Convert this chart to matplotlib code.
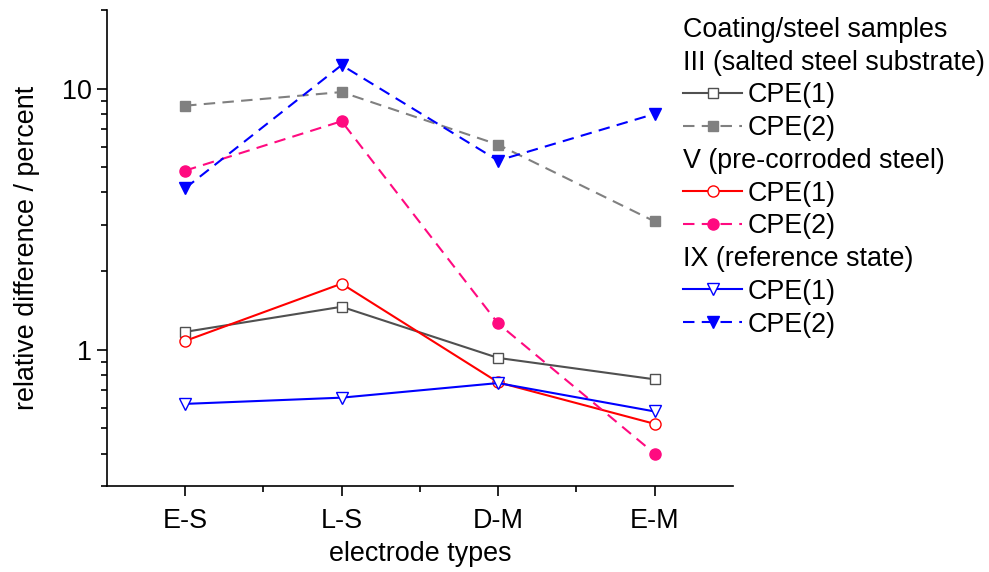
import matplotlib
matplotlib.use("Agg")
import matplotlib.pyplot as plt
from matplotlib.lines import Line2D
from matplotlib.ticker import FixedLocator, NullFormatter
import numpy as np

plt.rcParams['font.family'] = ['Liberation Sans', 'DejaVu Sans']

electrodes = ['E-S', 'L-S', 'D-M', 'E-M']

# III (salted steel substrate)
iii_cpe1 = [1.17, 1.46, 0.93, 0.77]
iii_cpe2 = [8.6, 9.7, 6.1, 3.1]
# V (pre-corroded steel)
v_cpe1 = [1.08, 1.79, 0.75, 0.52]
v_cpe2 = [4.85, 7.5, 1.26, 0.40]
# IX (reference state)
ix_cpe1 = [0.62, 0.655, 0.745, 0.58]
ix_cpe2 = [4.15, 12.3, 5.3, 8.0]

fs = 19.4
dash = (0, (5.5, 3.5))
lw = 1.5

fig = plt.figure(figsize=(9.89, 5.72), dpi=100)
ax = fig.add_axes([0.108, 0.150, 0.633, 0.8325])
x = np.arange(len(electrodes))

h1, = ax.plot(x, iii_cpe1, color='#505050', lw=lw, marker='s', ms=6.5, mfc='white', mec='#505050', mew=1.0)
h2, = ax.plot(x, iii_cpe2, color='#808080', lw=lw, ls=dash, marker='s', ms=7, mfc='#808080', mec='#808080')
h3, = ax.plot(x, v_cpe1, color='#ff0000', lw=lw, marker='o', ms=8, mfc='white', mec='#ff0000', mew=1.0)
h4, = ax.plot(x, v_cpe2, color='#ff0a80', lw=lw, ls=dash, marker='o', ms=8, mfc='#ff0a80', mec='#ff0a80')
h5, = ax.plot(x, ix_cpe1, color='#0000ff', lw=lw, marker='v', ms=9, mfc='white', mec='#0000ff', mew=1.0)
h6, = ax.plot(x, ix_cpe2, color='#0000ff', lw=lw, ls=dash, marker='v', ms=9, mfc='#0000ff', mec='#0000ff')

ax.set_yscale('log')
ax.set_ylim(0.3, 20)
ax.set_xlim(-0.5, 3.5)
ax.set_xticks(x)
ax.set_xticklabels(electrodes, fontsize=fs)
ax.xaxis.set_minor_locator(FixedLocator(x[:-1] + 0.5))
ax.set_yticks([1, 10])
ax.set_yticklabels(['1', '10'], fontsize=fs)
minors = [v * d for d in (0.1, 1, 10) for v in range(2, 10)]
ax.yaxis.set_minor_locator(FixedLocator([m for m in minors if 0.3 <= m <= 20]))
ax.yaxis.set_minor_formatter(NullFormatter())
ax.tick_params(which='major', direction='out', length=7, width=1.2)
ax.tick_params(axis='x', which='major', pad=9)
ax.tick_params(which='minor', direction='out', length=4, width=1.2)
for s in ('top', 'right'):
    ax.spines[s].set_visible(False)
for s in ('left', 'bottom'):
    ax.spines[s].set_linewidth(1.2)
ax.set_xlabel('electrode types', fontsize=fs, labelpad=5)
ax.set_ylabel('relative difference / percent', fontsize=fs, labelpad=16)

blank = Line2D([], [], ls='none')
handles = [blank, blank, h1, h2, blank, h3, h4, blank, h5, h6]
labels = ['Coating/steel samples', 'III (salted steel substrate)', 'CPE(1)', 'CPE(2)',
          'V (pre-corroded steel)', 'CPE(1)', 'CPE(2)',
          'IX (reference state)', 'CPE(1)', 'CPE(2)']
leg = fig.legend(handles, labels, loc='upper left', bbox_to_anchor=(683 / 989, 1 - 17 / 572),
                 frameon=False, fontsize=fs, handlelength=2.2, handletextpad=0.18,
                 labelspacing=0.25, borderpad=0, borderaxespad=0)
headers = {0, 1, 4, 7}
rows = leg._legend_handle_box.get_children()[0].get_children()
for i, hp in enumerate(rows):
    if i in headers:
        da = hp.get_children()[0]
        da.width = 0
        hp.sep = 0

fig.savefig('out.png', dpi=100)
